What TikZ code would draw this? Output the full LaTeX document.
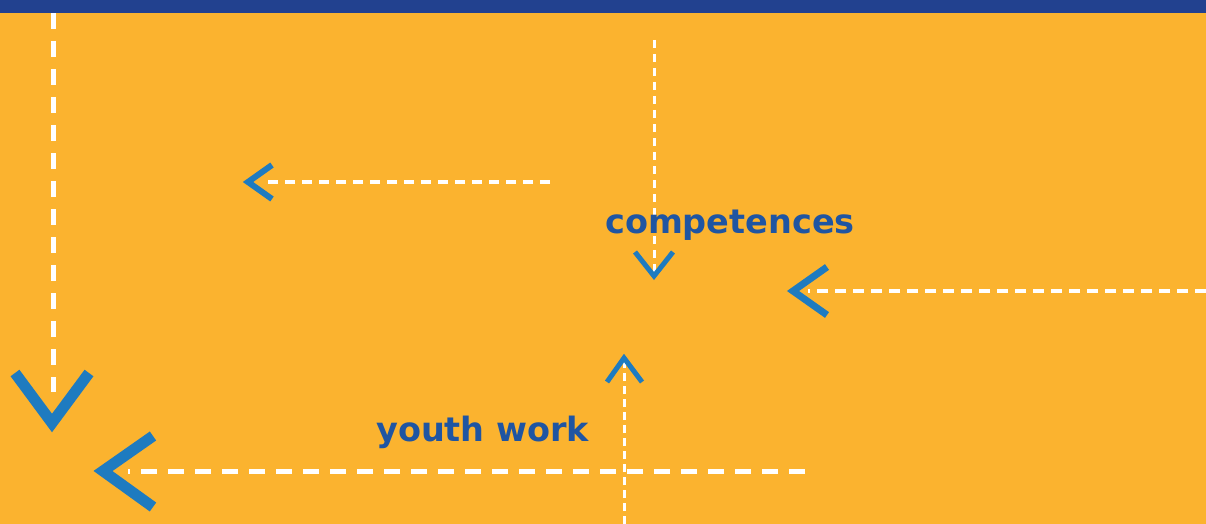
\documentclass[tikz,border=0pt]{standalone}
\usepackage{fontspec}
\setmainfont{DejaVu Sans}
\definecolor{bgorange}{HTML}{FBB32F}
\definecolor{bandblue}{HTML}{22418F}
\definecolor{chevblue}{HTML}{1E7BC0}
\definecolor{textblue}{HTML}{1F55A2}
\begin{document}
\begin{tikzpicture}[x=1pt,y=-1pt,
  chev/.style={draw=chevblue,line join=miter,line cap=butt},
  dline/.style={draw=white,line cap=butt},
  lbl/.style={text=textblue,font=\bfseries\fontsize{33.5}{33.5}\selectfont,inner sep=0pt,anchor=base west}]
\useasboundingbox (0,0) rectangle (1206,524);
\fill[bgorange] (0,0) rectangle (1206,524);
\fill[bandblue] (0,0) rectangle (1206,13);
% coordinates
\coordinate (lvS) at (53,13);   \coordinate (lvE) at (53,392);
\coordinate (bhS) at (805,471); \coordinate (bhE) at (128,471);
\coordinate (uhS) at (550,182); \coordinate (uhE) at (263,182);
\coordinate (rhS) at (1206,291);\coordinate (rhE) at (808,291);
\coordinate (mdS) at (654,40);  \coordinate (mdE) at (654,272);
\coordinate (muS) at (624,524); \coordinate (muE) at (624,362);
% dashed lines
\draw[dline,line width=5,dash pattern=on 16 off 12] (lvS) -- (lvE);
\draw[dline,line width=5,dash pattern=on 16 off 11] (bhS) -- (bhE);
\draw[dline,line width=3.5,dash pattern=on 10 off 7] (uhS) -- (uhE);
\draw[dline,line width=4.5,dash pattern=on 11 off 7] (rhS) -- (rhE);
\draw[dline,line width=3,dash pattern=on 8 off 6] (mdS) -- (mdE);
\draw[dline,line width=3,dash pattern=on 8 off 5] (muS) -- (muE);
% chevrons
\draw[chev,line width=11] (15,373) -- (52,423) -- (89,373);
\draw[chev,line width=11] (153,436) -- (103,471) -- (153,507);
\draw[chev,line width=6] (272,165) -- (248,182) -- (272,199);
\draw[chev,line width=7] (827,267) -- (793,291) -- (827,315);
\draw[chev,line width=5] (635,252) -- (654,276) -- (673,252);
\draw[chev,line width=5] (607,382) -- (624,358) -- (642,382);
% labels
\node[lbl] (comp) at (605,233) {competences};
\node[lbl] (yw) at (376,441) {youth work};
\end{tikzpicture}
\end{document}
